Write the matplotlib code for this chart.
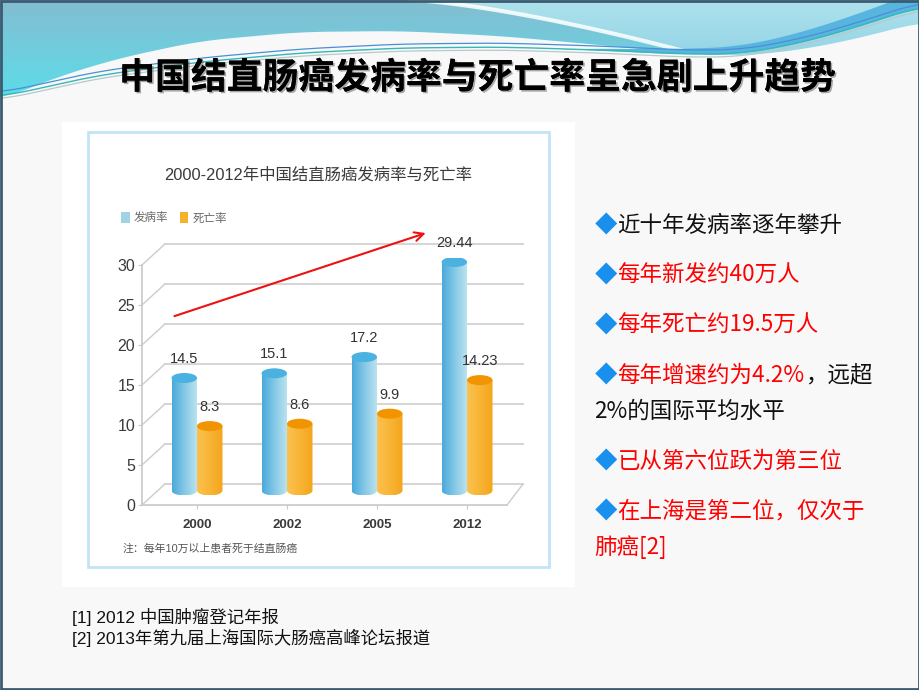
import numpy as np
import matplotlib
matplotlib.use("Agg")
import matplotlib.pyplot as plt
from matplotlib.patches import Rectangle, Ellipse, Polygon, Patch
from matplotlib.colors import to_rgb
import matplotlib.patheffects as pe

# --- data ---
years = ["2000", "2002", "2005", "2012"]
incidence = [14.5, 15.1, 17.2, 29.44]
mortality = [8.3, 8.6, 9.9, 14.23]
series_names = ["发病率", "死亡率"]
y_ticks = [0, 5, 10, 15, 20, 25, 30]

slide_title = "中国结直肠癌发病率与死亡率呈急剧上升趋势"
chart_title = "2000-2012年中国结直肠癌发病率与死亡率"
chart_note = "注：每年10万以上患者死于结直肠癌"
bullets = [
    [[("近十年发病率逐年攀升", "#111111")]],
    [[("每年新发约40万人", "#ff0000")]],
    [[("每年死亡约19.5万人", "#ff0000")]],
    [[("每年增速约为4.2%", "#ff0000"), ("，远超", "#111111")],
     [("2%的国际平均水平", "#111111")]],
    [[("已从第六位跃为第三位", "#ff0000")]],
    [[("在上海是第二位，仅次于", "#ff0000")],
     [("肺癌[2]", "#ff0000")]],
]
references = ["[1] 2012 中国肿瘤登记年报", "[2] 2013年第九届上海国际大肠癌高峰论坛报道"]

# --- fonts / colours ---
CJK = ["Noto Sans CJK SC", "DejaVu Sans"]
ARIAL = ["Liberation Sans", "Noto Sans CJK SC"]
plt.rcParams["font.family"] = CJK

BLUE_GRAD = ["#4aa9dc", "#86c9e6", "#bfe4ef"]
BLUE_TOP = "#4bb1e1"
ORANGE_GRAD = ["#fbc24f", "#f8b436", "#f4a51b"]
ORANGE_TOP = "#f29300"
GRID = "#d6d6d6"

W, H = 920, 690
fig = plt.figure(figsize=(W / 100, H / 100), dpi=100, facecolor="#f8f8f8")


def frac_box(left, top, right, bottom):
    return [left / W, 1 - bottom / H, (right - left) / W, (bottom - top) / H]


# --- background / slide decoration (pixel coordinates) ---
bg = fig.add_axes([0, 0, 1, 1])
bg.set_xlim(0, W)
bg.set_ylim(H, 0)
bg.axis("off")

xs = np.linspace(0, W, 460)


def smooth_curve(ctrl, win=31):
    px, py = zip(*ctrl)
    y = np.interp(xs, px, py)
    pad = win // 2
    yp = np.concatenate([np.full(pad, y[0]), y, np.full(pad, y[-1])])
    return np.convolve(yp, np.ones(win) / win, mode="valid")


B = smooth_curve([(0, 100), (60, 76), (120, 58), (200, 41), (300, 32), (400, 31),
                  (500, 36), (600, 45), (680, 53), (740, 56), (800, 50), (860, 38), (920, 22)])
L = smooth_curve([(0, 97), (100, 75), (200, 62), (300, 53), (400, 48), (500, 47),
                  (600, 50), (680, 54), (740, 54), (800, 43), (860, 26), (920, 6)])

gx, gy = np.meshgrid(np.linspace(0, W, 460), np.linspace(0, 110, 111))
wcurve = np.where(gx < 410, -1, 58 * np.clip((gx - 410) / 300, 0, None) ** 1.4)
light = (gx > 410) & (gy < wcurve)
c1, c2 = np.array(to_rgb("#84bdd1")), np.array(to_rgb("#5cdde9"))
c3, c4 = np.array(to_rgb("#aee2ec")), np.array(to_rgb("#92d3e6"))
t = np.clip(gy / 100, 0, 1)[..., None]
left_col = (1 - t) * c1 + t * c2
t2 = np.clip(gy / 60, 0, 1)[..., None]
right_col = (1 - t2) * c3 + t2 * c4
img = np.where(light[..., None], right_col, left_col)
hdr = bg.imshow(img, extent=(0, W, 110, 0), origin="upper", aspect="auto", zorder=1)
clip_poly = Polygon(np.vstack([np.column_stack([xs, B]), [[W, 0], [0, 0]]]),
                    closed=True, transform=bg.transData, facecolor="none", edgecolor="none")
bg.add_patch(clip_poly)
hdr.set_clip_path(clip_poly)

wx = np.linspace(410, 730, 100)
bg.plot(wx, 58 * ((wx - 410) / 300) ** 1.4, color="white", lw=3, alpha=0.85, zorder=2)
band = xs > 560
thick = np.clip((xs - 560) / 360, 0, 1) * 16
bg.fill_between(xs[band], L[band] - thick[band], L[band], color="#58b5e0", zorder=2, lw=0)
bg.plot(xs, L, color="#35b9b4", lw=1.0, zorder=3)
bg.plot(xs, L - 4, color="#4a8fd6", lw=0.9, zorder=3)
bg.plot(xs, L + 3, color="#b8c8cc", lw=0.9, zorder=3)

bg.text(478, 78, slide_title, ha="center", va="center", fontsize=25.8,
        fontweight="heavy", color="black", family=CJK, zorder=5,
        path_effects=[pe.withSimplePatchShadow(offset=(1.2, -1.2), shadow_rgbFace="#555555", alpha=0.5),
                      pe.Normal()])

bg.add_patch(Rectangle((62, 122), 513, 465, facecolor="white", edgecolor="none", zorder=1))
bg.add_patch(Rectangle((88, 132), 461, 435, facecolor="white", edgecolor="#c3e4f6", lw=2, zorder=1))
bg.add_patch(Rectangle((1, 1), W - 2, H - 2, facecolor="none", edgecolor="#3b5b70", lw=2, zorder=6))

bg.text(318, 175, chart_title, ha="center", va="center", fontsize=11.8,
        color="#3a3a3a", family=ARIAL, zorder=3)
bg.text(123, 549, chart_note, ha="left", va="center", fontsize=7.8, color="#555555",
        family=ARIAL, zorder=3)

# --- right bullet list ---
def rich_line(x, y, parts, size=16.2):
    t = bg.text(x, y, parts[0][0], color=parts[0][1], fontsize=size, ha="left",
                va="center", family=CJK, zorder=4)
    for s, c in parts[1:]:
        t = bg.annotate(s, xy=(1, 0), xycoords=t, xytext=(0, 0), textcoords="offset points",
                        ha="left", va="bottom", color=c, fontsize=size, family=CJK, zorder=4)


yy = 225
for para in bullets:
    for j, line in enumerate(para):
        if j == 0:
            rich_line(595, yy, [("◆", "#1a90ee")] + line)
        else:
            rich_line(594, yy, line)
        yy += 36
    yy += 14

for k, ref in enumerate(references):
    bg.text(72, 617 + 21 * k, ref, ha="left", va="center", fontsize=12.5,
            color="#111111", family=ARIAL, zorder=4)

# --- chart: front plane axes (frame, ticks, grid) ---
ax = fig.add_axes(frac_box(142, 265, 507, 505))
ax.patch.set_alpha(0)
cat_x = np.arange(len(years))
x0, x1 = -0.611, 3.444
ax.set_xlim(x0, x1)
ax.set_ylim(0, 30)
for s in ["top", "right"]:
    ax.spines[s].set_visible(False)
for s in ["left", "bottom"]:
    ax.spines[s].set_color("#c8c8c8")
    ax.spines[s].set_linewidth(1.2)
ax.set_yticks(y_ticks)
ax.set_yticklabels([str(v) for v in y_ticks], family=ARIAL, fontsize=11.5, color="#3a3a3a")
ax.tick_params(axis="y", length=3, color="#c8c8c8", pad=2)
ax.set_xticks(cat_x)
ax.set_xticklabels(years, family=ARIAL, fontsize=9.5, fontweight="bold", color="#3a3a3a")
ax.tick_params(axis="x", length=3, color="#c8c8c8", pad=7)

DXL, DXR, DY = 23 / 90, 16 / 90, 21 / 8
for v in y_ticks:
    ax.plot([x0 + DXL, x1 + DXR], [v + DY, v + DY], color=GRID, lw=1.5, clip_on=False, zorder=1)
    ax.plot([x0, x0 + DXL], [v, v + DY], color="#cccccc", lw=1, clip_on=False, zorder=1)
ax.plot([x1, x1 + DXR], [0, DY], color="#cccccc", lw=1, clip_on=False, zorder=1)

# --- chart: bar plane axes (cylinders) ---
PXU = 7.76          # pixels per value unit in the bar plane
YLO = -1.5
axb = fig.add_axes(frac_box(142, 490.5 - 30 * PXU, 507, 490.5 - YLO * PXU))
axb.patch.set_alpha(0)
axb.axis("off")
BW = 0.283
RY = 5 / PXU


def grad_img(stops):
    cols = np.array([to_rgb(c) for c in stops])
    g = np.linspace(0, 1, 64)
    pos = np.linspace(0, 1, len(stops))
    return np.stack([np.interp(g, pos, cols[:, k]) for k in range(3)], axis=-1)[None, :, :]


def cylinder(rect, stops, top):
    bx, w, h = rect.get_x(), rect.get_width(), rect.get_height()
    th = np.linspace(np.pi, 2 * np.pi, 40)
    arc = np.column_stack([bx + w / 2 + w / 2 * np.cos(th), RY * np.sin(th)])
    verts = np.vstack([[[bx, h]], arc, [[bx + w, h]]])
    poly = Polygon(verts, closed=True, transform=axb.transData, facecolor="none", edgecolor="none")
    axb.add_patch(poly)
    im = axb.imshow(grad_img(stops), extent=(bx, bx + w, -RY, h), aspect="auto",
                    interpolation="bilinear", zorder=2)
    im.set_clip_path(poly)
    axb.add_patch(Ellipse((bx + w / 2, h), w, 2 * RY, facecolor=top, edgecolor="none", zorder=3))
    axb.annotate(f"{h:g}", xy=(bx + w / 2, h), xytext=(0, 13.7), textcoords="offset points",
                 ha="center", va="center", fontsize=10.5, family=ARIAL, color="#333333", zorder=4)


bars_inc = axb.bar(cat_x - BW / 2, incidence, BW, color="none", edgecolor="none")
bars_mor = axb.bar(cat_x + BW / 2, mortality, BW, color="none", edgecolor="none")
for r in bars_inc:
    cylinder(r, BLUE_GRAD, BLUE_TOP)
for r in bars_mor:
    cylinder(r, ORANGE_GRAD, ORANGE_TOP)
axb.set_xlim(x0, x1)
axb.set_ylim(YLO, 30)

# trend arrow
ax.annotate("", xy=(2.57, 34.1), xytext=(-0.28, 23.5),
            arrowprops=dict(arrowstyle="->", color="#ee1111", lw=1.5, mutation_scale=16),
            annotation_clip=False, zorder=5)

handles = [Patch(facecolor="#a0d4e4", edgecolor="none"), Patch(facecolor="#f6b12a", edgecolor="none")]
fig.legend(handles, series_names, loc="center left", bbox_to_anchor=(121 / W, 1 - 218 / H),
           ncol=2, frameon=False, handlelength=0.75, handleheight=1.1,
           handletextpad=0.35, columnspacing=1.0, borderpad=0, borderaxespad=0,
           labelcolor="#666666", prop={"family": CJK, "size": 8.3})

fig.savefig("out.png", dpi=100, facecolor=fig.get_facecolor())
